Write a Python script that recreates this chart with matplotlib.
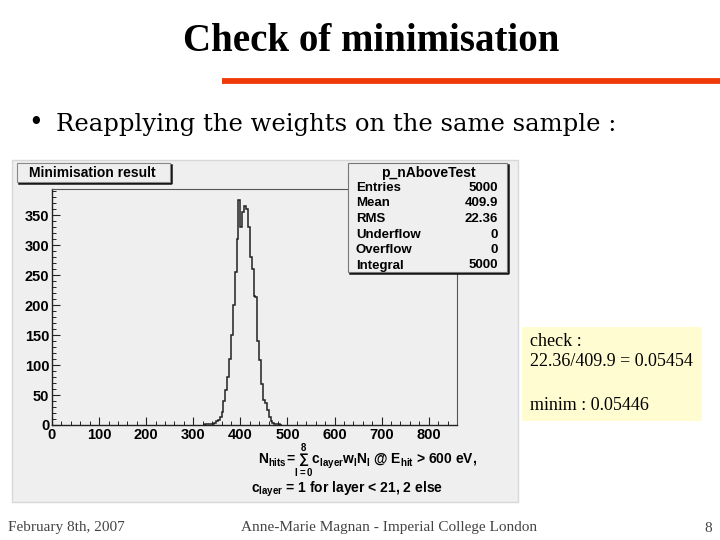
import numpy as np
import matplotlib
matplotlib.use("Agg")
import matplotlib.pyplot as plt
from matplotlib.patches import Rectangle
from matplotlib.lines import Line2D
from matplotlib.ticker import MultipleLocator

# histogram p_nAboveTest, bins of width 4 starting at 320
bin_start = 320
bin_width = 4
counts = [0, 1, 1, 1, 2, 2, 3, 6, 9, 14,
          22, 40, 58, 80, 110, 150, 200, 255, 310, 376,
          330, 355, 366, 360, 330, 280, 260, 215, 214, 140,
          108, 68, 42, 36, 25, 14, 6, 3, 2, 1, 1, 0]

stat_names = ["Entries", "Mean", "RMS", "Underflow", "Overflow", "Integral"]
stat_values = ["5000", "409.9", "22.36", "0", "0", "5000"]

x_range = (0, 860)
y_max = 394

plt.rcParams['mathtext.fontset'] = 'custom'
plt.rcParams['mathtext.rm'] = 'Liberation Sans:bold'
plt.rcParams['mathtext.it'] = 'Liberation Sans:bold'
plt.rcParams['mathtext.bf'] = 'Liberation Sans:bold'

W, H = 720, 540
fig = plt.figure(figsize=(7.2, 5.4), dpi=100)
fig.patch.set_facecolor('white')

def fx(px):
    return px / W

def fy(py):
    return 1 - py / H

def box(x0, y0, x1, y1, **kw):
    r = Rectangle((fx(x0), fy(y1)), fx(x1) - fx(x0), fy(y0) - fy(y1),
                  transform=fig.transFigure, **kw)
    fig.patches.append(r)
    return r

def line(xs, ys, **kw):
    fig.lines.append(Line2D([fx(x) for x in xs], [fy(y) for y in ys],
                            transform=fig.transFigure, **kw))

serif = 'Liberation Serif'
sans = 'Liberation Sans'

# slide title and bullet
fig.text(fx(371), fy(51), "Check of minimisation", ha='center', va='baseline',
         fontsize=28, fontweight='bold', family=serif)
line([222, 720], [81, 81], color='#f03a0a', lw=4.2, solid_capstyle='butt')
fig.text(fx(30), fy(131), u"\u2022", ha='left', va='baseline', fontsize=22, family=serif)
fig.text(fx(56), fy(131), "Reapplying the weights on the same sample :", ha='left',
         va='baseline', fontsize=17.5, family='DejaVu Serif')

# ROOT canvas
box(12, 160, 518, 502, facecolor='#efefef', edgecolor='#d8d8d8', lw=1, zorder=-2)

ax = fig.add_axes([fx(52), fy(425), fx(457) - fx(52), fy(189) - fy(425)])
ax.set_facecolor('none')
edges = bin_start + bin_width * np.arange(len(counts) + 1)
ax.stairs(counts, edges, color='#222222', lw=1.1)
ax.set_xlim(*x_range)
ax.set_ylim(0, y_max)
ax.xaxis.set_major_locator(MultipleLocator(100))
ax.xaxis.set_minor_locator(MultipleLocator(20))
ax.yaxis.set_major_locator(MultipleLocator(50))
ax.yaxis.set_minor_locator(MultipleLocator(10))
ax.tick_params(which='both', direction='in', top=False, right=False, color='#222222')
ax.tick_params(which='major', length=6, width=0.8, pad=2, labelsize=10.5)
ax.tick_params(which='minor', length=3, width=0.7)
for lab in ax.get_xticklabels() + ax.get_yticklabels():
    lab.set_fontweight('bold')
    lab.set_family(sans)
for s in ['bottom', 'left']:
    ax.spines[s].set_color('#222222')
    ax.spines[s].set_linewidth(1.0)
for s in ['top', 'right']:
    ax.spines[s].set_color('#555555')
    ax.spines[s].set_linewidth(0.8)

# title box
box(17, 163, 170, 182, facecolor='#efefef', edgecolor='#888888', lw=0.8, zorder=2)
line([19, 171, 171], [183, 183, 165], color='#111111', lw=1.8, zorder=2)
fig.text(fx(29), fy(173), "Minimisation result", ha='left', va='center',
         fontsize=10, fontweight='bold', family=sans, zorder=3)

# stats box
box(348, 163, 507, 272, facecolor='#efefef', edgecolor='#777777', lw=0.8, zorder=2)
line([350, 508, 508], [273, 273, 165], color='#111111', lw=1.8, zorder=2)
line([348, 507], [181, 181], color='#555555', lw=0.8, zorder=2)
fig.text(fx(428), fy(173), "p_nAboveTest", ha='center', va='center',
         fontsize=10, fontweight='bold', family=sans, zorder=3)
for i, (name, val) in enumerate(zip(stat_names, stat_values)):
    yy = 188 + i * 15.5
    fig.text(fx(356), fy(yy), name, ha='left', va='center', fontsize=9.5,
             fontweight='bold', family=sans, zorder=3)
    fig.text(fx(498), fy(yy), val, ha='right', va='center', fontsize=9.5,
             fontweight='bold', family=sans, zorder=3)

# axis formula
fig.text(fx(258), fy(461), r"$N_{hits}\!=\!\sum_{l=0}^{8}c_{layer}w_lN_l$ @ $E_{hit}$ > 600 eV,",
         ha='left', va='center', fontsize=10, fontweight='bold', family=sans)
fig.text(fx(251), fy(489), r"$c_{layer}$ = 1 for layer < 21, 2 else",
         ha='left', va='center', fontsize=10, fontweight='bold', family=sans)

# check box
box(522, 327, 702, 421, facecolor='#fffcd2', edgecolor='none', zorder=1)
fig.text(fx(530), fy(342), "check :", ha='left', va='center', fontsize=13, family=serif)
fig.text(fx(530), fy(362), "22.36/409.9 = 0.05454", ha='left', va='center',
         fontsize=13, family=serif)
fig.text(fx(530), fy(406), "minim : 0.05446", ha='left', va='center', fontsize=13,
         family=serif)

# footer
fig.text(fx(8), fy(528), "February 8th, 2007", ha='left', va='center', fontsize=11,
         family=serif, color='#444444')
fig.text(fx(389), fy(528), "Anne-Marie Magnan - Imperial College London", ha='center',
         va='center', fontsize=11, family=serif, color='#444444')
fig.text(fx(712), fy(528), "8", ha='right', va='center', fontsize=11, family=serif,
         color='#444444')

fig.savefig("out.png", dpi=100)
